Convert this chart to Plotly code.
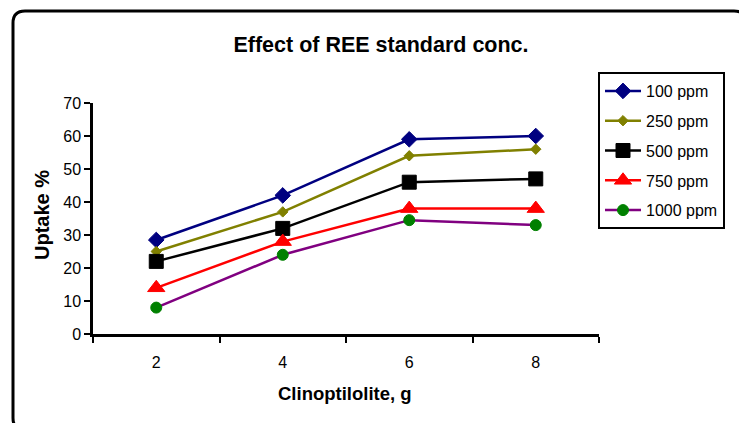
import plotly.graph_objects as go

# Clinoptilolite dose (g) and REE uptake (%) for each standard concentration
doses = ["2", "4", "6", "8"]
uptake_100 = [28.5, 42, 59, 60]
uptake_250 = [25, 37, 54, 56]
uptake_500 = [22, 32, 46, 47]
uptake_750 = [14, 28, 38, 38]
uptake_1000 = [8, 24, 34.5, 33]

series = [
    ("100 ppm", uptake_100, "#000080", "#000080", "diamond", 12),
    ("250 ppm", uptake_250, "#808000", "#808000", "diamond", 8),
    ("500 ppm", uptake_500, "#000000", "#000000", "square", 14),
    ("750 ppm", uptake_750, "#FF0000", "#FF0000", "triangle-up", 15),
    ("1000 ppm", uptake_1000, "#800080", "#008000", "circle", 11),
]

FONT = "Liberation Sans, Arial, sans-serif"

fig = go.Figure()
for i, (name, vals, line_col, mk_col, symbol, size) in enumerate(series):
    fig.add_trace(go.Scatter(
        x=doses, y=vals, name=name, mode="lines+markers",
        legendgroup=f"g{i}",
        line=dict(color=line_col, width=2.5),
        marker=dict(symbol=symbol, size=size, color=mk_col,
                    line=dict(color=mk_col, width=1)),
    ))

# plot-area geometry in pixels, used to place the frame and labels
W, H = 739, 423
L, R, T, B = 93, 140, 103, 89
PW, PH = W - L - R, H - T - B


def px_x(p):
    return (p - L) / PW


def px_y(p):
    return (H - B - p) / PH


# rounded outer frame
x0, x1 = px_x(13), px_x(746)
y0, y1 = px_y(430), px_y(11)
rx, ry = 12 / PW, 12 / PH
frame = (
    f"M {x0},{y1 - ry} Q {x0},{y1} {x0 + rx},{y1} "
    f"L {x1 - rx},{y1} Q {x1},{y1} {x1},{y1 - ry} "
    f"L {x1},{y0 + ry} Q {x1},{y0} {x1 - rx},{y0} "
    f"L {x0 + rx},{y0} Q {x0},{y0} {x0},{y0 + ry} Z"
)

fig.update_layout(
    width=W, height=H,
    margin=dict(l=L, r=R, t=T, b=B),
    paper_bgcolor="white", plot_bgcolor="white",
    font=dict(family=FONT, color="black", size=16),
    title=dict(text="<b>Effect of REE standard conc.</b>",
               font=dict(size=21.5, family=FONT, color="black"),
               x=381 / W, xref="container", xanchor="center",
               y=1 - 44 / H, yref="container", yanchor="middle"),
    xaxis=dict(type="category", tickson="boundaries", ticks="outside",
               range=[-0.5, 3.5],
               ticklen=6, tickwidth=2, tickcolor="black",
               showline=True, linewidth=2.5, linecolor="black",
               showgrid=False, zeroline=False, ticklabelstandoff=12,
               tickfont=dict(size=16)),
    yaxis=dict(range=[0, 70], dtick=10, ticks="outside", ticklen=6,
               tickwidth=2, tickcolor="black",
               showline=True, linewidth=2.5, linecolor="black",
               showgrid=False, zeroline=False, tickfont=dict(size=16)),
    legend=dict(x=px_x(598), y=px_y(72), xanchor="left", yanchor="top",
                bordercolor="black", borderwidth=2, bgcolor="white",
                font=dict(size=16), tracegroupgap=6, itemwidth=36,
                traceorder="grouped"),
    shapes=[dict(type="path", path=frame, xref="paper", yref="paper",
                 line=dict(color="black", width=3), layer="below")],
    annotations=[
        dict(text="<b>Uptake %</b>", textangle=-90, showarrow=False,
             xref="paper", yref="paper", x=px_x(42), y=px_y(215),
             xanchor="center", yanchor="middle", font=dict(size=20)),
        dict(text="<b>Clinoptilolite, g</b>", showarrow=False,
             xref="paper", yref="paper", x=px_x(345), y=px_y(393),
             xanchor="center", yanchor="middle", font=dict(size=18.5)),
    ],
)

fig.write_html("out.html")
